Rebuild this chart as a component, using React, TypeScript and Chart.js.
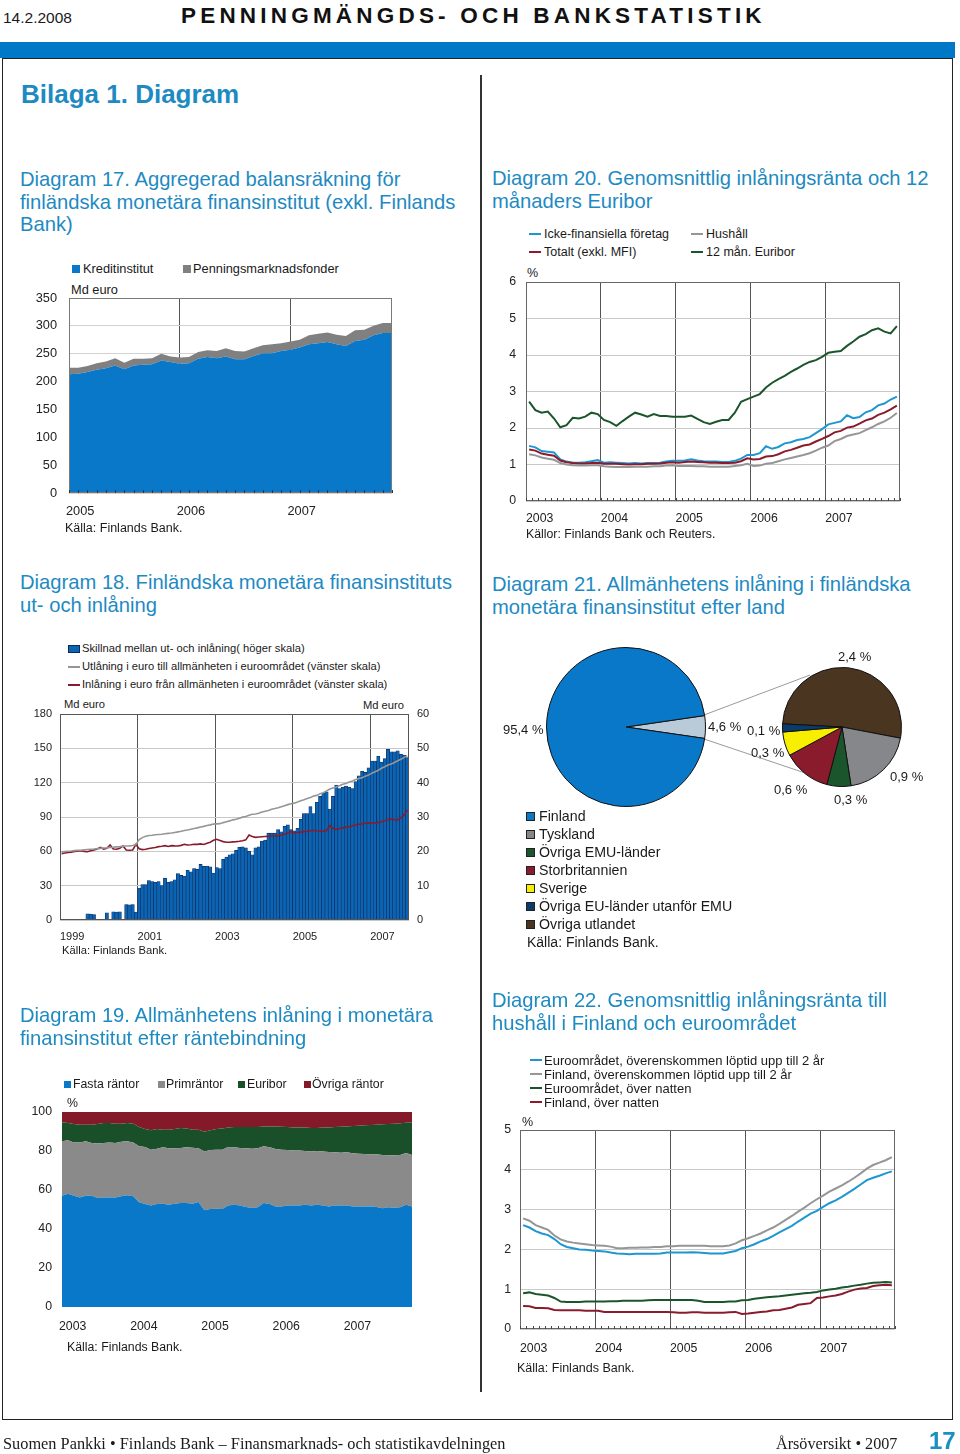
import React, { useEffect, useRef } from 'react';
import { Chart, registerables } from 'chart.js';

Chart.register(...registerables);

const SANS = '"Liberation Sans", Arial, Helvetica, sans-serif';
const SERIF = '"Liberation Serif", "Times New Roman", serif';
const TEAL = '#1e8ac2';
const INK = '#1a1a1a';

const BLUE = '#0a78c8';
const GRAY = '#808080';
const GREEN = '#1b552b';
const RED = '#8a1b2c';
const LBLUE = '#1e96d2';
const LGRAY = '#969696';

// ---------------- Diagram 17 (monthly 2005-2007, Md euro) ----------------
const D17_YEARS = ['2005', '2006', '2007'];
const D17_YEAR_TICKS = [0, 12, 24];
const D17_KREDIT = [213, 214, 217, 221, 224, 229, 222, 229, 230, 231, 238, 235, 232, 233, 241, 244, 242, 245, 240, 240, 246, 251, 251, 255, 257, 261, 267, 269, 271, 267, 264, 273, 275, 283, 287, 287];
const D17_PENNING = [12, 11, 11, 12, 12, 13, 12, 12, 11, 11, 12, 10, 11, 11, 12, 12, 13, 15, 15, 14, 14, 14, 16, 14, 15, 14, 16, 17, 17, 17, 18, 19, 18, 17, 18, 18];

// ---------------- Diagram 20 (monthly 2003-2007, %) ----------------
const D20_YEARS = ['2003', '2004', '2005', '2006', '2007'];
const D20_YEAR_TICKS = [0, 12, 24, 36, 48];
const D20_ICKE = [1.51, 1.47, 1.37, 1.35, 1.33, 1.14, 1.08, 1.05, 1.05, 1.06, 1.09, 1.12, 1.05, 1.06, 1.05, 1.04, 1.03, 1.04, 1.03, 1.04, 1.04, 1.05, 1.08, 1.10, 1.10, 1.11, 1.14, 1.11, 1.09, 1.08, 1.08, 1.07, 1.07, 1.10, 1.16, 1.26, 1.26, 1.31, 1.50, 1.43, 1.48, 1.58, 1.61, 1.67, 1.70, 1.75, 1.86, 1.97, 2.10, 2.14, 2.18, 2.35, 2.27, 2.30, 2.43, 2.49, 2.62, 2.67, 2.78, 2.86];
const D20_HUSHALL = [1.28, 1.25, 1.19, 1.16, 1.13, 1.04, 1.00, 0.98, 0.97, 0.97, 0.98, 0.98, 0.95, 0.94, 0.93, 0.93, 0.93, 0.94, 0.94, 0.94, 0.95, 0.95, 0.97, 0.98, 0.96, 0.96, 0.96, 0.95, 0.95, 0.94, 0.94, 0.94, 0.94, 0.96, 0.98, 1.02, 0.96, 0.97, 1.02, 1.04, 1.09, 1.14, 1.18, 1.22, 1.26, 1.31, 1.38, 1.46, 1.52, 1.64, 1.70, 1.78, 1.82, 1.86, 1.94, 2.02, 2.11, 2.18, 2.28, 2.41];
const D20_TOTALT = [1.41, 1.38, 1.30, 1.27, 1.24, 1.11, 1.06, 1.04, 1.03, 1.03, 1.04, 1.05, 1.02, 1.02, 1.02, 1.01, 1.00, 1.01, 1.01, 1.02, 1.02, 1.03, 1.05, 1.06, 1.05, 1.07, 1.08, 1.07, 1.06, 1.05, 1.05, 1.04, 1.04, 1.05, 1.09, 1.17, 1.14, 1.15, 1.22, 1.23, 1.28, 1.36, 1.40, 1.46, 1.52, 1.55, 1.63, 1.70, 1.78, 1.88, 1.92, 2.01, 2.04, 2.12, 2.21, 2.26, 2.36, 2.42, 2.51, 2.61];
const D20_EURIBOR = [2.72, 2.49, 2.42, 2.45, 2.26, 2.02, 2.08, 2.28, 2.26, 2.31, 2.42, 2.38, 2.22, 2.16, 2.06, 2.19, 2.31, 2.42, 2.37, 2.31, 2.38, 2.33, 2.33, 2.31, 2.31, 2.31, 2.34, 2.25, 2.16, 2.11, 2.17, 2.22, 2.22, 2.42, 2.72, 2.79, 2.86, 2.93, 3.11, 3.24, 3.34, 3.43, 3.54, 3.63, 3.73, 3.81, 3.86, 3.95, 4.06, 4.09, 4.11, 4.25, 4.37, 4.50, 4.57, 4.68, 4.73, 4.64, 4.59, 4.79];

// ---------------- Diagram 18 (monthly 1999-2007) ----------------
const D18_YEARS = ['1999', '2001', '2003', '2005', '2007'];
const D18_YEAR_TICKS = [0, 24, 48, 72, 96];
const D18_SKILLNAD = [
  0, 0, 0, 0, 0, 0, 0.2, 0, 1.8, 1.7, 1.6, 0,
  0, 0, 2.1, 0, 2.4, 2.3, 2.4, 0, 4.5, 4.4, 4.5, 2.3,
  9.3, 10.3, 10.3, 11.5, 11.2, 11.0, 11.2, 10.0, 12.2, 11.0, 11.2, 11.7,
  13.5, 13.0, 12.8, 14.5, 14.0, 15.0, 14.8, 16.2, 15.6, 15.7, 15.5, 13.7,
  15.3, 15.0, 17.7, 18.3, 19.0, 19.3, 20.3, 21.2, 21.3, 21.0, 20.0, 19.0,
  21.0, 21.3, 23.0, 23.3, 25.3, 25.3, 25.3, 26.3, 25.7, 27.3, 27.7, 26.3,
  26.0, 26.7, 29.3, 31.0, 31.0, 33.0, 31.0, 34.3, 36.0, 37.0, 37.3, 32.3,
  36.0, 39.3, 38.3, 38.7, 39.0, 38.7, 38.3, 40.3, 42.0, 43.3, 43.0, 44.3,
  46.3, 46.3, 47.7, 46.0, 47.0, 49.7, 49.0, 49.0, 49.3, 48.3, 48.0, 47.3,
];
const D18_UTLANING = [
  59.5, 59.8, 60.1, 60.3, 60.6, 60.8, 61.0, 61.4, 61.6, 61.8, 62.0, 62.3,
  62.6, 62.9, 63.0, 63.4, 63.6, 63.9, 64.1, 64.4, 64.6, 64.8, 65.1, 66.0,
  70.2, 72.0, 73.1, 73.8, 74.1, 74.5, 74.7, 74.9, 75.3, 75.7, 76.0, 76.5,
  77.0, 77.5, 78.2, 78.7, 79.3, 79.9, 80.5, 81.3, 81.8, 82.5, 83.1, 83.8,
  84.0, 84.2, 85.1, 85.9, 86.6, 87.5, 88.1, 89.0, 89.9, 90.5, 91.6, 92.4,
  92.6, 93.3, 94.3, 95.1, 95.7, 96.8, 97.4, 98.1, 99.0, 99.9, 100.8, 101.5,
  102.1, 103.1, 104.2, 105.0, 106.2, 107.1, 108.3, 108.9, 110.4, 111.2, 112.8, 114.4,
  115.3, 116.2, 117.4, 118.6, 119.3, 120.6, 121.4, 122.7, 123.6, 124.4, 125.7, 126.6,
  128.3, 129.6, 130.9, 132.6, 133.9, 135.4, 136.3, 137.6, 139.2, 140.4, 142.1, 143.6,
];
const D18_INLANING = [
  58.0, 58.5, 59.0, 59.3, 59.8, 60.2, 60.5, 60.0, 59.7, 60.5, 61.2, 62.0,
  63.5, 62.0, 62.6, 65.5, 62.0, 61.8, 62.6, 64.7, 61.2, 61.0, 61.2, 66.0,
  62.3, 61.5, 61.8, 62.5, 62.9, 63.3, 64.1, 64.5, 65.0, 64.3, 65.0, 64.8,
  64.7, 65.2, 66.1, 65.5, 65.8, 66.2, 66.1, 66.5, 66.0, 67.0, 68.0, 69.6,
  70.5, 69.5, 68.5, 68.0, 67.9, 68.3, 68.5, 68.8, 69.3, 70.0, 74.3, 73.0,
  72.2, 72.5, 72.8, 73.0, 73.2, 73.4, 73.5, 73.8, 74.3, 75.0, 76.0, 77.2,
  76.3, 76.5, 76.8, 77.2, 77.5, 78.0, 78.4, 78.0, 77.8, 77.5, 78.0, 82.4,
  80.0, 79.2, 80.0, 80.5, 81.0, 81.5, 82.3, 83.0, 83.6, 84.0, 84.5, 85.0,
  84.8, 84.5, 85.2, 85.9, 86.8, 87.8, 88.3, 87.6, 87.4, 89.5, 91.8, 96.0,
];

// ---------------- Diagram 21 (shares, %) ----------------
const D21_MAIN_LABELS = ['Utlandet', 'Finland'];
const D21_MAIN = [4.6, 95.4];
const D21_SUB_LABELS = ['Övriga utlandet', 'Tyskland', 'Övriga EMU-länder', 'Storbritannien', 'Sverige', 'Övriga EU-länder utanför EMU'];
const D21_SUB = [2.4, 0.9, 0.3, 0.6, 0.3, 0.1];
const D21_SUB_COLORS = ['#4a3520', '#85878b', '#1b552b', '#8a1b2c', '#f7ee00', '#0b3b6b'];
const D21_LEGEND = ['Finland', 'Tyskland', 'Övriga EMU-länder', 'Storbritannien', 'Sverige', 'Övriga EU-länder utanför EMU', 'Övriga utlandet'];
const D21_LEGEND_COLORS = [BLUE, '#85878b', '#1b552b', '#8a1b2c', '#f7ee00', '#0b3b6b', '#4a3520'];

// ---------------- Diagram 19 (monthly 2003-2007, % shares) ----------------
const D19_YEARS = ['2003', '2004', '2005', '2006', '2007'];
const D19_YEAR_TICKS = [0, 12, 24, 36, 48];
const D19_FASTA = [57.1, 58.1, 57.1, 56.2, 57.1, 57.1, 55.9, 56.2, 56.2, 56.2, 56.8, 57.3, 56.8, 53.7, 52.8, 52.0, 52.8, 53.0, 52.5, 53.0, 53.3, 53.3, 53.0, 53.8, 49.6, 50.3, 50.4, 50.3, 52.1, 52.5, 52.0, 51.3, 50.8, 51.1, 53.3, 52.8, 51.6, 51.6, 52.0, 52.0, 52.1, 52.5, 52.1, 52.5, 52.0, 51.6, 52.1, 52.0, 52.0, 51.6, 51.6, 51.6, 51.6, 51.3, 50.6, 51.1, 50.9, 51.1, 52.5, 51.6];
const D19_PRIM = [27.9, 27.4, 27.3, 28.2, 27.9, 27.0, 27.9, 27.9, 28.1, 27.9, 28.0, 27.7, 27.6, 28.7, 29.3, 28.7, 28.4, 28.9, 28.9, 28.4, 28.2, 28.6, 28.7, 27.6, 30.2, 30.2, 30.3, 30.4, 30.0, 29.4, 29.5, 30.1, 30.4, 30.3, 29.1, 29.1, 29.4, 29.1, 28.5, 28.3, 28.1, 27.5, 27.7, 27.5, 27.7, 27.9, 27.2, 27.1, 27.3, 27.2, 27.0, 26.9, 26.7, 27.0, 27.3, 26.7, 26.9, 26.8, 26.5, 26.3];
const D19_EURIBOR = [9.7, 8.9, 9.4, 9.1, 8.5, 9.4, 10.0, 10.3, 10.1, 9.9, 9.2, 9.4, 9.6, 9.9, 9.2, 9.9, 10.1, 9.0, 9.5, 9.9, 10.3, 9.6, 9.2, 9.5, 10.1, 10.1, 10.6, 10.9, 9.9, 10.4, 10.8, 10.9, 11.1, 10.9, 10.2, 10.7, 11.6, 11.8, 11.8, 11.8, 11.9, 12.0, 12.0, 11.8, 12.3, 12.6, 13.0, 13.4, 13.3, 14.0, 14.4, 14.7, 15.0, 15.2, 15.8, 16.0, 16.2, 16.3, 15.5, 16.8];
const D19_OVRIGA = [5.3, 5.6, 6.2, 6.5, 6.5, 6.5, 6.2, 5.6, 5.6, 6.0, 6.0, 5.6, 6.0, 7.7, 8.7, 9.4, 8.7, 9.1, 9.1, 8.7, 8.2, 8.5, 9.1, 9.1, 10.1, 9.4, 8.7, 8.4, 8.0, 7.7, 7.7, 7.7, 7.7, 7.7, 7.4, 7.4, 7.4, 7.5, 7.7, 7.9, 7.9, 8.0, 8.2, 8.2, 8.0, 7.9, 7.7, 7.5, 7.4, 7.2, 7.0, 6.8, 6.7, 6.5, 6.3, 6.2, 6.0, 5.8, 5.5, 5.3];

// ---------------- Diagram 22 (monthly 2003-2007, %) ----------------
const D22_YEARS = ['2003', '2004', '2005', '2006', '2007'];
const D22_YEAR_TICKS = [0, 12, 24, 36, 48];
const D22_EURO_2Y = [2.61, 2.55, 2.46, 2.40, 2.36, 2.26, 2.13, 2.06, 2.03, 2.00, 1.99, 1.97, 1.96, 1.95, 1.92, 1.90, 1.89, 1.88, 1.89, 1.89, 1.89, 1.89, 1.90, 1.92, 1.92, 1.92, 1.92, 1.93, 1.92, 1.91, 1.90, 1.90, 1.90, 1.93, 1.96, 2.03, 2.07, 2.13, 2.20, 2.26, 2.34, 2.43, 2.51, 2.59, 2.70, 2.80, 2.90, 2.97, 3.07, 3.16, 3.23, 3.32, 3.42, 3.52, 3.63, 3.74, 3.80, 3.85, 3.91, 3.96];
const D22_FIN_2Y = [2.78, 2.72, 2.61, 2.55, 2.49, 2.35, 2.25, 2.20, 2.17, 2.15, 2.13, 2.11, 2.10, 2.09, 2.07, 2.03, 2.03, 2.04, 2.04, 2.05, 2.05, 2.06, 2.06, 2.08, 2.08, 2.09, 2.09, 2.09, 2.09, 2.09, 2.08, 2.08, 2.08, 2.10, 2.15, 2.23, 2.28, 2.34, 2.40, 2.48, 2.55, 2.64, 2.74, 2.84, 2.95, 3.05, 3.16, 3.26, 3.35, 3.45, 3.53, 3.61, 3.70, 3.80, 3.91, 4.03, 4.12, 4.18, 4.24, 4.32];
const D22_EURO_ON = [0.90, 0.92, 0.88, 0.86, 0.84, 0.78, 0.69, 0.68, 0.68, 0.68, 0.69, 0.69, 0.69, 0.69, 0.70, 0.70, 0.71, 0.71, 0.71, 0.71, 0.72, 0.73, 0.73, 0.73, 0.73, 0.73, 0.73, 0.73, 0.71, 0.68, 0.68, 0.68, 0.68, 0.69, 0.69, 0.72, 0.73, 0.76, 0.78, 0.80, 0.81, 0.82, 0.84, 0.86, 0.88, 0.90, 0.91, 0.93, 0.97, 0.99, 1.01, 1.04, 1.06, 1.09, 1.11, 1.14, 1.16, 1.17, 1.18, 1.17];
const D22_FIN_ON = [0.58, 0.57, 0.53, 0.53, 0.52, 0.48, 0.47, 0.47, 0.47, 0.47, 0.46, 0.46, 0.46, 0.43, 0.43, 0.43, 0.43, 0.43, 0.43, 0.43, 0.43, 0.43, 0.43, 0.43, 0.42, 0.41, 0.41, 0.42, 0.42, 0.41, 0.41, 0.41, 0.41, 0.42, 0.43, 0.38, 0.39, 0.41, 0.43, 0.44, 0.47, 0.48, 0.51, 0.54, 0.61, 0.63, 0.65, 0.78, 0.79, 0.82, 0.84, 0.88, 0.94, 0.99, 1.02, 1.03, 1.08, 1.10, 1.11, 1.10];

// ---------------- helpers ----------------
type Geo = { left: number; top: number; width: number; height: number };
const PAD = 16;

function geo(l: number, t: number, r: number, b: number, yW: number, yRW: number, xH: number): Geo {
  return { left: l - yW - PAD, top: t - PAD, width: r - l + yW + yRW + 2 * PAD, height: b - t + xH + 2 * PAD };
}

const pts = (arr: number[], off = 0) => arr.map((y, i) => ({ x: i + off, y }));

const framePlugin = (color: string) => ({
  id: 'frame',
  afterDatasetsDraw(chart: any) {
    const { ctx, chartArea: a } = chart;
    ctx.save();
    ctx.strokeStyle = color;
    ctx.lineWidth = 1;
    ctx.strokeRect(Math.round(a.left) + 0.5, Math.round(a.top) + 0.5, Math.round(a.right - a.left) - 1, Math.round(a.bottom - a.top) - 1);
    ctx.restore();
  },
});

const minorTicks = (count: number, len: number, color: string) => ({
  id: 'minorTicks',
  afterDatasetsDraw(chart: any) {
    const { ctx, chartArea: a, scales } = chart;
    ctx.save();
    ctx.strokeStyle = color;
    ctx.lineWidth = 1;
    ctx.beginPath();
    for (let i = 0; i <= count; i++) {
      const x = Math.round(scales.x.getPixelForValue(i)) + 0.5;
      ctx.moveTo(x, a.bottom);
      ctx.lineTo(x, a.bottom - len);
    }
    ctx.stroke();
    ctx.restore();
  },
});

function xYears(min: number, max: number, at: number[], labels: string[], pad: number, xH: number, size: number, grid: string, labelOffset = 0) {
  return {
    type: 'linear',
    min,
    max,
    offset: false,
    afterBuildTicks: (s: any) => {
      s.ticks = at.map((v) => ({ value: v }));
    },
    afterFit: (s: any) => {
      s.height = xH;
      s.paddingLeft = 0;
      s.paddingRight = 0;
      s.paddingTop = 0;
      s.paddingBottom = 0;
    },
    ticks: {
      callback: (v: number) => {
        const k = at.indexOf(v);
        return k >= 0 ? labels[k] : '';
      },
      align: 'start',
      padding: pad,
      labelOffset,
      maxRotation: 0,
      minRotation: 0,
      autoSkip: false,
      color: '#222',
      font: { family: SANS, size },
    },
    grid: { display: grid !== 'none', color: grid, drawTicks: false, lineWidth: 1, offset: false },
    border: { display: false },
  };
}

function yLin(min: number, max: number, step: number, pad: number, yW: number, size: number, grid: string, position = 'left') {
  return {
    type: 'linear',
    position,
    min,
    max,
    ticks: { stepSize: step, padding: pad, color: '#222', font: { family: SANS, size } },
    afterFit: (s: any) => {
      s.width = yW;
      s.paddingTop = 0;
      s.paddingBottom = 0;
      s.paddingLeft = 0;
      s.paddingRight = 0;
    },
    grid: { display: grid !== 'none', color: grid, drawTicks: false, lineWidth: 1 },
    border: { display: false },
  };
}

const baseOpts = () => ({
  responsive: false,
  animation: false,
  maintainAspectRatio: false,
  layout: { padding: PAD },
  plugins: { legend: { display: false }, tooltip: { enabled: false } },
  elements: { point: { radius: 0 }, line: { tension: 0 } },
});

const areaDs = (label: string, arr: number[], color: string, fill: any) => ({
  label,
  data: pts(arr),
  fill,
  backgroundColor: color,
  borderColor: 'rgba(0,0,0,0)',
  borderWidth: 0,
  pointRadius: 0,
});

const lineDs = (label: string, arr: number[], color: string, width: number, off: number, axis = 'y', order = 0) => ({
  type: 'line',
  label,
  data: pts(arr, off),
  borderColor: color,
  borderWidth: width,
  pointRadius: 0,
  fill: false,
  yAxisID: axis,
  order,
});

// ---------------- chart geometry ----------------
const G17 = geo(69, 298, 392, 493, 44, 0, 30);
const G20 = geo(526, 282, 900, 501, 30, 0, 30);
const G18 = geo(60, 714, 409, 920, 36, 36, 30);
const G19 = geo(62, 1112, 412, 1307, 40, 0, 30);
const G22 = geo(520, 1130, 895, 1329, 30, 0, 30);

function cfg17() {
  const o: any = baseOpts();
  o.scales = {
    x: xYears(0, D17_KREDIT.length - 1, D17_YEAR_TICKS, D17_YEARS, 11, 30, 12.8, '#555', -3),
    y: { ...yLin(0, 350, 50, 12, 44, 12.8, '#d2d2d2'), stacked: true },
  };
  return {
    type: 'line',
    data: {
      datasets: [areaDs('Kreditinstitut', D17_KREDIT, BLUE, 'origin'), areaDs('Penningsmarknadsfonder', D17_PENNING, GRAY, '-1')],
    },
    options: o,
    plugins: [framePlugin('#7a7a7a'), minorTicks(D17_KREDIT.length - 1, 3, '#333')],
  };
}

function cfg20() {
  const o: any = baseOpts();
  o.scales = {
    x: xYears(0, 60, D20_YEAR_TICKS, D20_YEARS, 10.5, 30, 12.3, '#555'),
    y: yLin(0, 6, 1, 10, 30, 12.3, '#c8c8c8'),
  };
  return {
    type: 'line',
    data: {
      datasets: [
        lineDs('Hushåll', D20_HUSHALL, LGRAY, 2, 0.5),
        lineDs('Totalt (exkl. MFI)', D20_TOTALT, RED, 2, 0.5),
        lineDs('Icke-finansiella företag', D20_ICKE, LBLUE, 2, 0.5),
        lineDs('12 mån. Euribor', D20_EURIBOR, GREEN, 2, 0.5),
      ],
    },
    options: o,
    plugins: [framePlugin('#666'), minorTicks(60, 3, '#444')],
  };
}

function cfg18() {
  const o: any = baseOpts();
  o.scales = {
    x: xYears(0, 108, D18_YEAR_TICKS, D18_YEARS, 10, 30, 11, '#555'),
    y: yLin(0, 180, 30, 8, 36, 11, '#c8c8c8'),
    y1: yLin(0, 60, 10, 8, 36, 11, 'none', 'right'),
  };
  return {
    type: 'bar',
    data: {
      datasets: [
        lineDs('Utlåning i euro till allmänheten i euroområdet (vänster skala)', D18_UTLANING, LGRAY, 1.6, 0.5, 'y', 0),
        lineDs('Inlåning i euro från allmänheten i euroområdet (vänster skala)', D18_INLANING, RED, 1.6, 0.5, 'y', 0),
        {
          type: 'bar',
          label: 'Skillnad mellan ut- och inlåning (höger skala)',
          data: pts(D18_SKILLNAD, 0.5),
          yAxisID: 'y1',
          backgroundColor: '#0b64b4',
          borderColor: '#0a2a58',
          borderWidth: { left: 0.6, right: 0.6, top: 0.6, bottom: 0 },
          barPercentage: 1,
          categoryPercentage: 1,
          order: 1,
        },
      ],
    },
    options: o,
    plugins: [framePlugin('#555')],
  };
}

function cfg19() {
  const o: any = baseOpts();
  o.scales = {
    x: xYears(0, D19_FASTA.length - 1, D19_YEAR_TICKS, D19_YEARS, 12, 30, 12.3, 'none', -3),
    y: { ...yLin(0, 100, 20, 10, 40, 12.3, 'none'), stacked: true },
  };
  return {
    type: 'line',
    data: {
      datasets: [
        areaDs('Fasta räntor', D19_FASTA, BLUE, 'origin'),
        areaDs('Primräntor', D19_PRIM, '#8a8a8a', '-1'),
        areaDs('Euribor', D19_EURIBOR, '#19502a', '-1'),
        areaDs('Övriga räntor', D19_OVRIGA, '#84192a', '-1'),
      ],
    },
    options: o,
  };
}

function cfg22() {
  const o: any = baseOpts();
  o.scales = {
    x: xYears(0, 60, D22_YEAR_TICKS, D22_YEARS, 12, 30, 12.3, '#555'),
    y: yLin(0, 5, 1, 9, 30, 12.3, '#c8c8c8'),
  };
  return {
    type: 'line',
    data: {
      datasets: [
        lineDs('Finland, överenskommen löptid upp till 2 år', D22_FIN_2Y, LGRAY, 2, 0.5),
        lineDs('Euroområdet, överenskommen löptid upp till 2 år', D22_EURO_2Y, LBLUE, 2, 0.5),
        lineDs('Euroområdet, över natten', D22_EURO_ON, GREEN, 2, 0.5),
        lineDs('Finland, över natten', D22_FIN_ON, RED, 2, 0.5),
      ],
    },
    options: o,
    plugins: [framePlugin('#666'), minorTicks(60, 3, '#444')],
  };
}

const PIE_BIG = { cx: 626, cy: 727, r: 79 };
const PIE_SMALL = { cx: 842, cy: 727, r: 59 };

function pieCfg(labels: string[], data: number[], colors: string[], rotation: number) {
  return {
    type: 'pie',
    data: { labels, datasets: [{ data, backgroundColor: colors, borderColor: '#111', borderWidth: 1 }] },
    options: {
      responsive: false,
      animation: false,
      rotation,
      layout: { padding: 0 },
      plugins: { legend: { display: false }, tooltip: { enabled: false } },
    },
  };
}

function cfg21Big() {
  const wedge = (D21_MAIN[0] / 100) * 360;
  return pieCfg(D21_MAIN_LABELS, D21_MAIN, ['#b9cad8', BLUE], 90 - wedge / 2);
}
function cfg21Small() {
  return pieCfg(D21_SUB_LABELS, D21_SUB, D21_SUB_COLORS, -87);
}

// ---------------- components ----------------
function ChartCanvas({ g, make }: { g: Geo; make: () => any }) {
  const ref = useRef<HTMLCanvasElement | null>(null);
  useEffect(() => {
    if (!ref.current) return;
    const chart = new Chart(ref.current, make());
    return () => chart.destroy();
  }, []);
  return (
    <canvas
      ref={ref}
      width={g.width}
      height={g.height}
      style={{ position: 'absolute', left: g.left, top: g.top, width: g.width, height: g.height }}
    />
  );
}

function Tx({ x, y, s = 12.5, c = INK, right = false, bold = false, family = SANS, sx = 1, children }: any) {
  const tr = (right ? 'translate(-100%,-50%)' : 'translateY(-50%)') + (sx !== 1 ? ` scaleX(${sx})` : '');
  return (
    <div
      style={{
        position: 'absolute',
        left: x,
        top: y,
        transform: tr,
        transformOrigin: right ? 'right center' : 'left center',
        fontSize: s,
        lineHeight: 1,
        whiteSpace: 'nowrap',
        color: c,
        fontWeight: bold ? 'bold' : 'normal',
        fontFamily: family,
      }}
    >
      {children}
    </div>
  );
}

function Title({ x, y, lines }: { x: number; y: number; lines: string[] }) {
  return (
    <>
      {lines.map((l, i) => (
        <Tx key={i} x={x} y={y + i * 22.6} s={20.2} c={TEAL}>
          {l}
        </Tx>
      ))}
    </>
  );
}

function Sq({ x, y, w = 8, h = 8, c, outline }: any) {
  return (
    <div
      style={{
        position: 'absolute',
        left: x,
        top: y - h / 2,
        width: w,
        height: h,
        background: c,
        border: outline ? `1px solid ${outline}` : 'none',
        boxSizing: 'border-box',
      }}
    />
  );
}

function Key({ x, y, c, w = 12 }: any) {
  return <div style={{ position: 'absolute', left: x, top: y - 1, width: w, height: 2, background: c }} />;
}

export default function App() {
  return (
    <div
      style={{
        position: 'absolute',
        left: 0,
        top: 0,
        width: 960,
        height: 1454,
        background: '#fff',
        overflow: 'hidden',
        fontFamily: SANS,
        color: INK,
      }}
    >
      {/* header */}
      <Tx x={3} y={18} s={15.5}>14.2.2008</Tx>
      <div
        style={{
          position: 'absolute',
          left: 181,
          top: 16,
          transform: 'translateY(-50%)',
          fontSize: 22.5,
          lineHeight: 1,
          fontWeight: 'bold',
          letterSpacing: 4.2,
          whiteSpace: 'nowrap',
          fontFamily: SANS,
          color: '#111',
        }}
      >
        PENNINGMÄNGDS- OCH BANKSTATISTIK
      </div>
      <div style={{ position: 'absolute', left: 0, top: 42, width: 955, height: 16, background: '#0078c8' }} />
      <div
        style={{
          position: 'absolute',
          left: 2,
          top: 58,
          width: 951,
          height: 1362,
          border: '1px solid #222',
          boxSizing: 'border-box',
        }}
      />
      <div style={{ position: 'absolute', left: 480, top: 75, width: 1.5, height: 1317, background: '#333' }} />

      <Tx x={21} y={94} s={26} bold c={TEAL}>Bilaga 1. Diagram</Tx>

      {/* Diagram 17 */}
      <Title x={20} y={179} lines={['Diagram 17. Aggregerad balansräkning för', 'finländska monetära finansinstitut (exkl. Finlands', 'Bank)']} />
      <Sq x={72} y={269} c={BLUE} />
      <Tx x={83} y={269} s={12.8}>Kreditinstitut</Tx>
      <Sq x={183} y={269} c={GRAY} />
      <Tx x={193} y={269} s={12.8}>Penningsmarknadsfonder</Tx>
      <Tx x={71} y={290} s={12.8}>Md euro</Tx>
      <ChartCanvas g={G17} make={cfg17} />
      <Tx x={65} y={528} s={12.5}>Källa: Finlands Bank.</Tx>

      {/* Diagram 20 */}
      <Title x={492} y={178} lines={['Diagram 20. Genomsnittlig inlåningsränta och 12', 'månaders Euribor']} />
      <Key x={529} y={234} c={LBLUE} />
      <Tx x={544} y={234} s={12.5}>Icke-finansiella företag</Tx>
      <Key x={691} y={234} c={LGRAY} />
      <Tx x={706} y={234} s={12.5}>Hushåll</Tx>
      <Key x={529} y={252} c={RED} />
      <Tx x={544} y={252} s={12.5}>Totalt (exkl. MFI)</Tx>
      <Key x={691} y={252} c={GREEN} />
      <Tx x={706} y={252} s={12.5}>12 mån. Euribor</Tx>
      <Tx x={527} y={273} s={12.5}>%</Tx>
      <ChartCanvas g={G20} make={cfg20} />
      <Tx x={526} y={534} s={12.3}>Källor: Finlands Bank och Reuters.</Tx>

      {/* Diagram 18 */}
      <Title x={20} y={582} lines={['Diagram 18. Finländska monetära finansinstituts', 'ut- och inlåning']} />
      <Sq x={68} y={649} w={12} h={8} c="#0b64b4" outline="#0a2a58" />
      <Tx x={82} y={649} s={11.2}>Skillnad mellan ut- och inlåning( höger skala)</Tx>
      <Key x={68} y={667} c={LGRAY} />
      <Tx x={82} y={667} s={11.2}>Utlåning i euro till allmänheten i euroområdet (vänster skala)</Tx>
      <Key x={68} y={685} c={RED} />
      <Tx x={82} y={685} s={11.2}>Inlåning i euro från allmänheten i euroområdet (vänster skala)</Tx>
      <Tx x={64} y={705} s={11.2}>Md euro</Tx>
      <Tx x={404} y={706} s={11.2} right>Md euro</Tx>
      <ChartCanvas g={G18} make={cfg18} />
      <Tx x={62} y={951} s={11.2}>Källa: Finlands Bank.</Tx>

      {/* Diagram 21 */}
      <Title x={492} y={584} lines={['Diagram 21. Allmänhetens inlåning i finländska', 'monetära finansinstitut efter land']} />
      <svg width={960} height={1454} style={{ position: 'absolute', left: 0, top: 0, pointerEvents: 'none' }}>
        <line x1={704} y1={715} x2={810} y2={675} stroke="#9a9a9a" strokeWidth={1} />
        <line x1={704} y1={739} x2={823} y2={779} stroke="#9a9a9a" strokeWidth={1} />
      </svg>
      <ChartCanvas
        g={{ left: PIE_BIG.cx - PIE_BIG.r - 1, top: PIE_BIG.cy - PIE_BIG.r - 1, width: 2 * PIE_BIG.r + 2, height: 2 * PIE_BIG.r + 2 }}
        make={cfg21Big}
      />
      <ChartCanvas
        g={{ left: PIE_SMALL.cx - PIE_SMALL.r - 1, top: PIE_SMALL.cy - PIE_SMALL.r - 1, width: 2 * PIE_SMALL.r + 2, height: 2 * PIE_SMALL.r + 2 }}
        make={cfg21Small}
      />
      <Tx x={503} y={729} s={13}>95,4 %</Tx>
      <Tx x={708} y={726} s={13}>4,6 %</Tx>
      <Tx x={747} y={730} s={13}>0,1 %</Tx>
      <Tx x={751} y={752} s={13}>0,3 %</Tx>
      <Tx x={838} y={656} s={13}>2,4 %</Tx>
      <Tx x={890} y={776} s={13}>0,9 %</Tx>
      <Tx x={774} y={789} s={13}>0,6 %</Tx>
      <Tx x={834} y={799} s={13}>0,3 %</Tx>
      {D21_LEGEND.map((l, i) => (
        <React.Fragment key={l}>
          <Sq x={526} y={816 + i * 18} w={9} h={9} c={D21_LEGEND_COLORS[i]} outline="#222" />
          <Tx x={539} y={816 + i * 18} s={14.2}>{l}</Tx>
        </React.Fragment>
      ))}
      <Tx x={527} y={942} s={14}>Källa: Finlands Bank.</Tx>

      {/* Diagram 19 */}
      <Title x={20} y={1015} lines={['Diagram 19. Allmänhetens inlåning i monetära', 'finansinstitut efter räntebindning']} />
      <Sq x={64} y={1084} w={7} h={7} c={BLUE} />
      <Tx x={73} y={1084} s={12.3}>Fasta räntor</Tx>
      <Sq x={158} y={1084} w={7} h={7} c="#8a8a8a" />
      <Tx x={166} y={1084} s={12.3}>Primräntor</Tx>
      <Sq x={238} y={1084} w={7} h={7} c="#19502a" />
      <Tx x={247} y={1084} s={12.3}>Euribor</Tx>
      <Sq x={304} y={1084} w={7} h={7} c="#84192a" />
      <Tx x={312} y={1084} s={12.3}>Övriga räntor</Tx>
      <Tx x={67} y={1103} s={12.3}>%</Tx>
      <ChartCanvas g={G19} make={cfg19} />
      <Tx x={67} y={1347} s={12.3}>Källa: Finlands Bank.</Tx>

      {/* Diagram 22 */}
      <Title x={492} y={1000} lines={['Diagram 22. Genomsnittlig inlåningsränta till', 'hushåll i Finland och euroområdet']} />
      <Key x={530} y={1060} c={LBLUE} />
      <Tx x={544} y={1060} s={13}>Euroområdet, överenskommen löptid upp till 2 år</Tx>
      <Key x={530} y={1074} c={LGRAY} />
      <Tx x={544} y={1074} s={13}>Finland, överenskommen löptid upp till 2 år</Tx>
      <Key x={530} y={1088} c={GREEN} />
      <Tx x={544} y={1088} s={13}>Euroområdet, över natten</Tx>
      <Key x={530} y={1102} c={RED} />
      <Tx x={544} y={1102} s={13}>Finland, över natten</Tx>
      <Tx x={522} y={1122} s={12.5}>%</Tx>
      <ChartCanvas g={G22} make={cfg22} />
      <Tx x={517} y={1368} s={12.5}>Källa: Finlands Bank.</Tx>

      {/* footer */}
      <Tx x={3} y={1443} s={17} family={SERIF} sx={0.96}>
        Suomen Pankki • Finlands Bank – Finansmarknads- och statistikavdelningen
      </Tx>
      <Tx x={776} y={1443} s={17} family={SERIF} sx={0.95}>
        Årsöversikt • 2007
      </Tx>
      <Tx x={929} y={1441} s={24} bold c="#1a90c0">17</Tx>
    </div>
  );
}
